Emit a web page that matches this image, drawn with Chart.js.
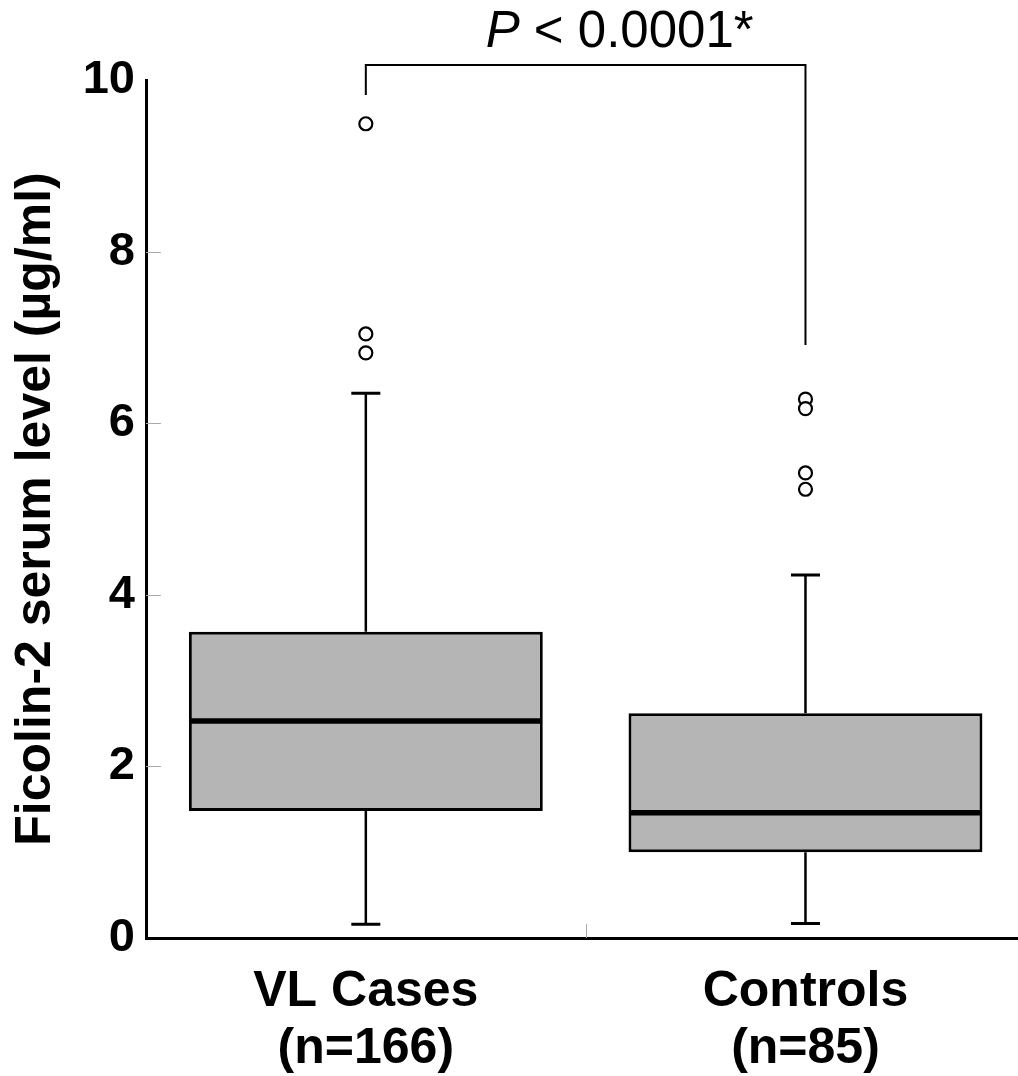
<!DOCTYPE html>
<html>
<head>
<meta charset="utf-8">
<script src="https://cdn.jsdelivr.net/npm/chart.js@4/dist/chart.umd.min.js"></script>
<style>
  html, body { margin: 0; padding: 0; background: #fff; overflow: hidden; }
  #wrap { width: 1034px; height: 1076px; }
</style>
</head>
<body>
<div id="wrap"><canvas id="ficolin-chart" width="1034" height="1076"></canvas></div>
<script>
// values
var categories = ['VL Cases', 'Controls'];
var sampleSizes = ['(n=166)', '(n=85)'];
var q1 = [1.48, 1.00];
var medians = [2.53, 1.46];
var q3 = [3.57, 2.62];
var whiskerLow = [0.16, 0.17];
var whiskerHigh = [6.35, 4.23];
var outliersVL = [9.49, 7.04, 6.82];
var outliersControls = [6.28, 6.17, 5.42, 5.23];
var yTicks = [0, 2, 4, 6, 8, 10];

// significance bracket (in y units): top, left leg end, right leg end
var bracketTop = 10.175;
var bracketLegs = [9.825, 6.91];
var pLabel = ['P', ' < 0.0001*'];

var FONT = "'Liberation Sans', Arial, Helvetica, sans-serif";

var outlierPoints = [];
outliersVL.forEach(function (v) { outlierPoints.push({x: categories[0], y: v}); });
outliersControls.forEach(function (v) { outlierPoints.push({x: categories[1], y: v}); });

var boxPlotExtras = {
	id: 'boxPlotExtras',
	afterDatasetsDraw: function (chart) {
		var ctx = chart.ctx;
		var x = chart.scales.x, y = chart.scales.y;
		var area = chart.chartArea;
		var bars = chart.getDatasetMeta(0).data;

		ctx.save();
		// short grey ticks on the inside of the y axis
		ctx.strokeStyle = '#aaaaaa';
		ctx.lineWidth = 1;
		yTicks.forEach(function (t) {
			if (t === y.min || t === y.max) return;
			var py = Math.round(y.getPixelForValue(t)) + 0.5;
			ctx.beginPath();
			ctx.moveTo(area.left, py);
			ctx.lineTo(area.left + 15, py);
			ctx.stroke();
		});
		// tick between the two groups
		var mid = (x.getPixelForValue(0) + x.getPixelForValue(1)) / 2;
		ctx.beginPath();
		ctx.moveTo(Math.round(mid) + 0.5, area.bottom);
		ctx.lineTo(Math.round(mid) + 0.5, area.bottom - 14);
		ctx.stroke();

		ctx.strokeStyle = '#000';
		bars.forEach(function (bar, i) {
			var cx = bar.x;
			var half = bar.width / 2;
			var capHalf = bar.width * 0.041;

			// whiskers
			ctx.lineWidth = 2.5;
			ctx.beginPath();
			ctx.moveTo(cx, y.getPixelForValue(q3[i]));
			ctx.lineTo(cx, y.getPixelForValue(whiskerHigh[i]));
			ctx.moveTo(cx, y.getPixelForValue(q1[i]));
			ctx.lineTo(cx, y.getPixelForValue(whiskerLow[i]));
			ctx.stroke();

			// caps
			ctx.lineWidth = 3;
			ctx.beginPath();
			ctx.moveTo(cx - capHalf, y.getPixelForValue(whiskerHigh[i]));
			ctx.lineTo(cx + capHalf, y.getPixelForValue(whiskerHigh[i]));
			ctx.moveTo(cx - capHalf, y.getPixelForValue(whiskerLow[i]));
			ctx.lineTo(cx + capHalf, y.getPixelForValue(whiskerLow[i]));
			ctx.stroke();

			// median
			ctx.lineWidth = 5.5;
			ctx.beginPath();
			ctx.moveTo(cx - half + 1, y.getPixelForValue(medians[i]));
			ctx.lineTo(cx + half - 1, y.getPixelForValue(medians[i]));
			ctx.stroke();
		});

		// significance bracket
		var lx = x.getPixelForValue(0), rx = x.getPixelForValue(1);
		var ty = y.getPixelForValue(bracketTop);
		ctx.lineWidth = 2;
		ctx.beginPath();
		ctx.moveTo(lx, y.getPixelForValue(bracketLegs[0]));
		ctx.lineTo(lx, ty);
		ctx.lineTo(rx, ty);
		ctx.lineTo(rx, y.getPixelForValue(bracketLegs[1]));
		ctx.stroke();

		// P value text
		ctx.fillStyle = '#000';
		ctx.textBaseline = 'alphabetic';
		ctx.textAlign = 'left';
		ctx.font = 'italic 51px ' + FONT;
		var w1 = ctx.measureText(pLabel[0]).width;
		ctx.font = '51px ' + FONT;
		var w2 = ctx.measureText(pLabel[1]).width;
		var startX = (lx + rx) / 2 + 34 - (w1 + w2) / 2;
		var baseY = ty - 18;
		ctx.font = 'italic 51px ' + FONT;
		ctx.fillText(pLabel[0], startX, baseY);
		ctx.font = '51px ' + FONT;
		ctx.fillText(pLabel[1], startX + w1, baseY);
		ctx.restore();
	}
};

new Chart('ficolin-chart', {
	type: 'bar',
	data: {
		labels: categories,
		datasets: [
			{
				label: 'IQR',
				data: categories.map(function (c, i) { return [q1[i], q3[i]]; }),
				backgroundColor: '#b5b5b5',
				borderColor: '#000',
				borderWidth: 3,
				borderSkipped: false,
				barPercentage: 0.805,
				categoryPercentage: 1
			},
			{
				type: 'line',
				label: 'Outliers',
				data: outlierPoints,
				showLine: false,
				pointRadius: 6.5,
				pointHoverRadius: 6.5,
				pointBorderWidth: 2.2,
				pointBackgroundColor: '#fff',
				pointBorderColor: '#000'
			}
		]
	},
	plugins: [boxPlotExtras],
	options: {
		responsive: false,
		animation: false,
		devicePixelRatio: 1,
		layout: { padding: { top: 80, left: 0, right: 0, bottom: 0 } },
		plugins: {
			legend: { display: false },
			tooltip: { enabled: false }
		},
		scales: {
			x: {
				offset: true,
				grid: { display: true, drawOnChartArea: false, drawTicks: false },
				border: { display: true, color: '#000', width: 3 },
				ticks: {
					color: '#000',
					padding: 26,
					maxRotation: 0,
					font: { family: FONT, size: 50, weight: 'bold', lineHeight: 1.14 },
					callback: function (val, i) { return [categories[i], sampleSizes[i]]; }
				},
				afterFit: function (s) { s.height = 138; }
			},
			y: {
				min: 0,
				max: 10,
				grid: { display: true, drawOnChartArea: false, drawTicks: false },
				border: { display: true, color: '#000', width: 3 },
				afterBuildTicks: function (s) { s.ticks = yTicks.map(function (v) { return {value: v}; }); },
				ticks: {
					color: '#000',
					padding: 11,
					font: { family: FONT, size: 47, weight: 'bold' }
				},
				title: {
					display: true,
					text: 'Ficolin-2 serum level (µg/ml)',
					color: '#000',
					padding: { top: 6, bottom: 0 },
					font: { family: FONT, size: 50, weight: 'bold', lineHeight: 1.2 }
				},
				afterFit: function (s) { s.width = 146; }
			}
		}
	}
});
</script>
</body>
</html>
